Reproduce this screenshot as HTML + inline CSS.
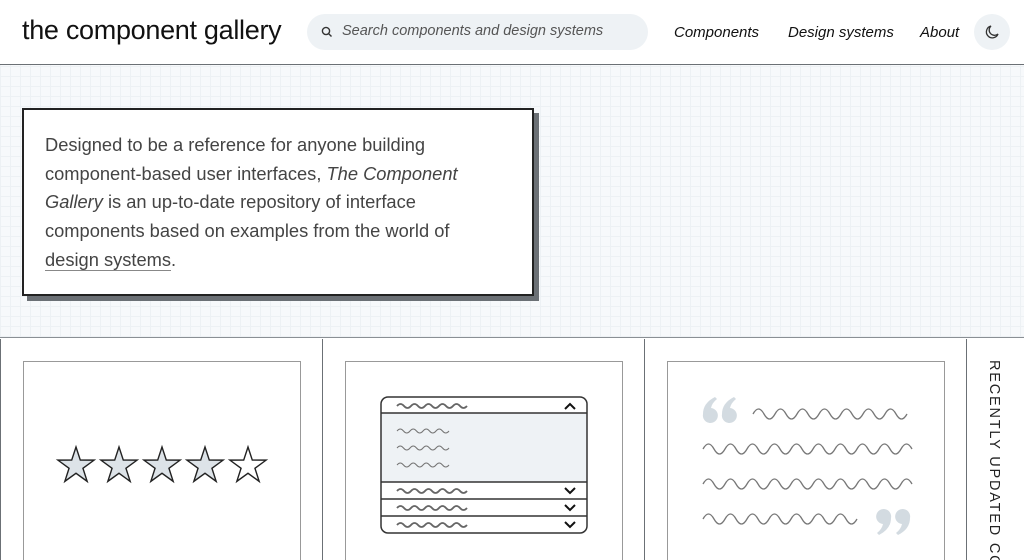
<!DOCTYPE html>
<html><head><meta charset="utf-8"><style>
*{margin:0;padding:0;box-sizing:border-box}
html{width:1024px;height:560px;overflow:hidden}
body{width:1024px;height:560px;overflow:hidden;background:#fff;font-family:"Liberation Sans",sans-serif;position:relative;color:#1a1a1a}
.hdr{position:absolute;left:0;top:0;width:1024px;height:65px;border-bottom:1px solid #6b7075;background:#fff}
.logo{position:absolute;left:22px;top:15px;font-size:27px;letter-spacing:-0.3px;color:#111}
.search{position:absolute;left:307px;top:14px;width:341px;height:36px;border-radius:18px;background:#eef2f5;font-style:italic;font-size:14.5px;color:#555;padding:9px 0 0 35px}
.search svg{position:absolute;left:14px;top:12px}
.nav{position:absolute;top:24px;font-size:15px;font-style:italic;color:#111}
.moon{position:absolute;left:974px;top:14px;width:36px;height:36px;border-radius:18px;background:#eef2f5}
.hero{position:absolute;left:0;top:65px;width:1024px;height:273px;background-color:#f7f9fb;
background-image:repeating-linear-gradient(0deg,#edf1f4 0 1px,transparent 1px 10px),repeating-linear-gradient(90deg,#edf1f4 0 1px,transparent 1px 10px);border-bottom:1px solid #8a8f94}
.card{position:absolute;left:22px;top:108px;width:512px;height:188px;background:#fff;border:2px solid #222;box-shadow:5px 5px 0 #6b7075;padding:21px 0 0 21px;font-size:18.3px;line-height:28.7px;color:#444;white-space:nowrap}
.card u{text-decoration:none;border-bottom:1px solid #888}
.col{position:absolute;top:339px;height:221px;border-left:1px solid #6b7075}
.box{position:absolute;top:361px;height:199px;border:1px solid #999;border-bottom:none;background:#fff}
.vt{position:absolute;left:986px;top:360px;height:200px;overflow:hidden;writing-mode:vertical-rl;font-size:14.5px;letter-spacing:1.8px;color:#222;white-space:nowrap}
</style></head><body>
<div class="hdr">
<div class="logo">the component gallery</div>
<div class="search"><svg width="12" height="12" viewBox="0 0 12 12"><circle cx="5" cy="5" r="3.6" fill="none" stroke="#333" stroke-width="1.4"/><line x1="7.6" y1="7.6" x2="10.5" y2="10.5" stroke="#333" stroke-width="1.4"/></svg>Search components and design systems</div>
<div class="nav" style="left:674px">Components</div>
<div class="nav" style="left:788px">Design systems</div>
<div class="nav" style="left:920px">About</div>
<div class="moon"><svg width="36" height="36" viewBox="0 0 36 36"><path d="M17 12 a6 6 0 1 0 7 8 a5 5 0 0 1 -7 -8z" fill="none" stroke="#333" stroke-width="1.3"/></svg></div>
</div>
<div class="hero"></div>
<div class="card">Designed to be a reference for anyone building<br>component-based user interfaces, <i>The Component</i><br><i>Gallery</i> is an up-to-date repository of interface<br>components based on examples from the world of<br><u>design systems</u>.</div>
<div class="col" style="left:0"></div>
<div class="col" style="left:322px"></div>
<div class="col" style="left:644px"></div>
<div class="col" style="left:966px"></div>
<div class="box" style="left:23px;width:278px"></div>
<div class="box" style="left:345px;width:278px"></div>
<div class="box" style="left:667px;width:278px"></div>
<svg style="position:absolute;left:0;top:0" width="1024" height="560">
<defs><polygon id="st" points="0,-19 4.29,-5.9 18.07,-5.87 6.94,2.26 11.17,15.37 0,7.3 -11.17,15.37 -6.94,2.26 -18.07,-5.87 -4.29,-5.9" stroke="#222" stroke-width="1.4" stroke-linejoin="miter"/>
<path id="qo" d="M0 16 a7.5 7.5 0 1 0 8 -6 q1 -5 6 -9 l-2 -2 q-12 6 -12 17z"/></defs>
<use href="#st" x="76" y="466" fill="#dde3e8"/>
<use href="#st" x="119" y="466" fill="#dde3e8"/>
<use href="#st" x="162" y="466" fill="#dde3e8"/>
<use href="#st" x="205" y="466" fill="#dde3e8"/>
<use href="#st" x="248" y="466" fill="#fff"/>
<rect x="381" y="413" width="206" height="69" fill="#eef2f5"/>
<rect x="381" y="397" width="206" height="136" rx="7" fill="none" stroke="#333" stroke-width="1.5"/>
<g stroke="#333" stroke-width="1.5"><line x1="381" y1="413" x2="587" y2="413"/><line x1="381" y1="482" x2="587" y2="482"/><line x1="381" y1="499" x2="587" y2="499"/><line x1="381" y1="516" x2="587" y2="516"/></g>
<g fill="none" stroke="#666" stroke-width="1.8">
<path d="M397 406 q3.5 -4 7 0 t7 0 t7 0 t7 0 t7 0 t7 0 t7 0 t7 0 t7 0 t7 0"/>
<path d="M397 491 q3.5 -4 7 0 t7 0 t7 0 t7 0 t7 0 t7 0 t7 0 t7 0 t7 0 t7 0"/>
<path d="M397 508 q3.5 -4 7 0 t7 0 t7 0 t7 0 t7 0 t7 0 t7 0 t7 0 t7 0 t7 0"/>
<path d="M397 525 q3.5 -4 7 0 t7 0 t7 0 t7 0 t7 0 t7 0 t7 0 t7 0 t7 0 t7 0"/>
</g>
<g fill="none" stroke="#777" stroke-width="1">
<path d="M397 431 q3.25 -4 6.5 0 t6.5 0 t6.5 0 t6.5 0 t6.5 0 t6.5 0 t6.5 0 t6.5 0"/>
<path d="M397 448 q3.25 -4 6.5 0 t6.5 0 t6.5 0 t6.5 0 t6.5 0 t6.5 0 t6.5 0 t6.5 0"/>
<path d="M397 465 q3.25 -4 6.5 0 t6.5 0 t6.5 0 t6.5 0 t6.5 0 t6.5 0 t6.5 0 t6.5 0"/>
</g>
<g fill="none" stroke="#111" stroke-width="2">
<path d="M565 409 l5 -5 l5 5"/>
<path d="M565 488 l5 5 l5 -5"/>
<path d="M565 505 l5 5 l5 -5"/>
<path d="M565 522 l5 5 l5 -5"/>
</g>
<g fill="none" stroke="#777" stroke-width="1.3">
<path d="M753 414 q5.5 -10 11 0 t11 0 t11 0 t11 0 t11 0 t11 0 t11 0 t11 0 t11 0 t11 0 t11 0 t11 0 t11 0 t11 0"/>
<path d="M703 449 q5.5 -10 11 0 t11 0 t11 0 t11 0 t11 0 t11 0 t11 0 t11 0 t11 0 t11 0 t11 0 t11 0 t11 0 t11 0 t11 0 t11 0 t11 0 t11 0 t11 0"/>
<path d="M703 484 q5.5 -10 11 0 t11 0 t11 0 t11 0 t11 0 t11 0 t11 0 t11 0 t11 0 t11 0 t11 0 t11 0 t11 0 t11 0 t11 0 t11 0 t11 0 t11 0 t11 0"/>
<path d="M703 519 q5.5 -10 11 0 t11 0 t11 0 t11 0 t11 0 t11 0 t11 0 t11 0 t11 0 t11 0 t11 0 t11 0 t11 0 t11 0"/>
</g>
<g fill="#d3dbe1">
<use href="#qo" x="703" y="398"/>
<use href="#qo" x="722" y="398"/>
<use href="#qo" transform="rotate(180 892.5 521)" x="875" y="508"/>
<use href="#qo" transform="rotate(180 892.5 521)" x="894" y="508"/>
</g>
</svg>
<div class="vt">RECENTLY UPDATED COMPONENTS</div>
</body></html>
